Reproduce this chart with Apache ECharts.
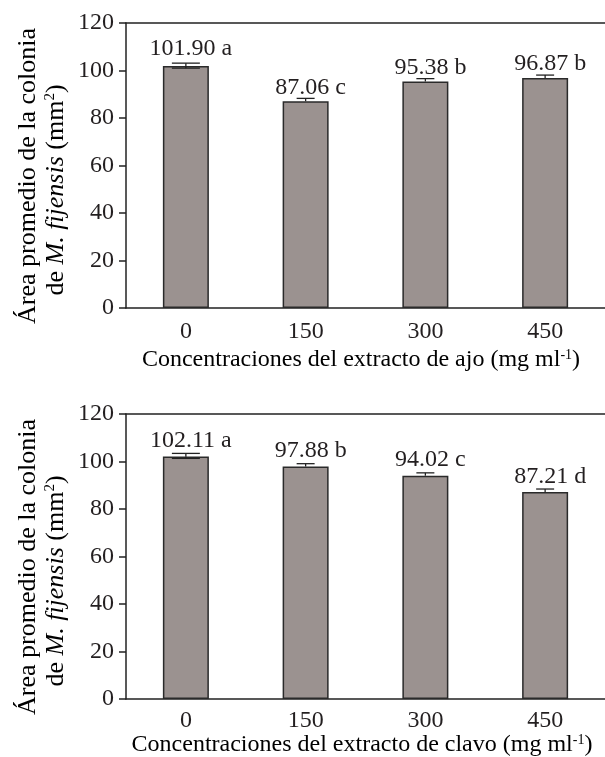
<!DOCTYPE html>
<html>
<head>
<meta charset="utf-8">
<script src="https://cdn.jsdelivr.net/npm/echarts@6/dist/echarts.min.js"></script>
<style>
html,body{margin:0;padding:0;background:#fff;}
#chart{width:605px;height:757px;}
</style>
</head>
<body>
<div id="chart"></div>
<script>
// ---- data ----
const categories = ['0', '150', '300', '450'];
const ajoValues = [101.90, 87.06, 95.38, 96.87];
const ajoLetters = ['a', 'c', 'b', 'b'];
const ajoErrUp = [1.2, 1.2, 1.2, 1.2];
const ajoErrLow = [0.9, 0, 0, 0];
const clavoValues = [102.11, 97.88, 94.02, 87.21];
const clavoLetters = ['a', 'b', 'c', 'd'];
const clavoErrUp = [1.3, 1.2, 1.2, 1.2];
const clavoErrLow = [0.8, 0, 0, 0];
const yTicks = [0, 20, 40, 60, 80, 100, 120];
const xTitleAjo = 'Concentraciones del extracto de ajo (mg ml';
const xTitleClavo = 'Concentraciones del extracto de clavo (mg ml';
const yTitle1 = 'Área promedio de la colonia';

const FONT = '"Liberation Serif", "Times New Roman", serif';
const TXT = '#231f20';
const BAR = '#9b9290';
const FS = 24;

const chart = echarts.init(document.getElementById('chart'));

function grids() {
  return [
    {left: 126, top: 23, width: 488, height: 285},
    {left: 126, top: 414, width: 488, height: 285}
  ];
}

function xAxes() {
  const arr = [];
  [0, 1].forEach(g => {
    arr.push({
      type: 'category', gridIndex: g, data: categories, position: 'bottom',
      axisLine: {lineStyle: {color: '#222', width: 1.5}},
      axisTick: {show: false},
      axisLabel: {fontFamily: FONT, fontSize: FS, color: TXT, margin: g === 0 ? 12 : 10}
    });
    arr.push({
      type: 'category', gridIndex: g, data: categories, position: 'top',
      axisLine: {lineStyle: {color: '#222', width: 1.5}},
      axisTick: {show: false}, axisLabel: {show: false}
    });
  });
  return arr;
}

function yAxes() {
  return [0, 1].map(g => ({
    type: 'value', gridIndex: g, min: yTicks[0], max: yTicks[yTicks.length - 1], interval: yTicks[1] - yTicks[0],
    axisLine: {show: true, lineStyle: {color: '#222', width: 1.5}},
    axisTick: {show: true, length: 7, lineStyle: {color: '#222', width: 1.5}},
    splitLine: {show: false},
    axisLabel: {fontFamily: FONT, fontSize: FS, color: TXT, margin: 12}
  }));
}

function barSeries(vals, letters, g, dist, firstDist) {
  return {
    type: 'bar', xAxisIndex: g * 2, yAxisIndex: g,
    data: vals.map((v, i) => i === 0 ? {value: v, label: {distance: firstDist}} : v),
    barWidth: 46,
    itemStyle: {color: BAR, borderColor: '#2a2a2a', borderWidth: 1.5},
    label: {
      show: true, position: 'top', distance: dist, offset: [5, 0],
      fontFamily: FONT, fontSize: FS, color: TXT,
      formatter: p => p.value.toFixed(2) + ' ' + letters[p.dataIndex]
    },
    z: 2
  };
}

function errSeries(vals, up, low, g) {
  return {
    type: 'custom', xAxisIndex: g * 2, yAxisIndex: g, z: 5,
    data: vals.map((v, i) => [i, v, v + up[i], v - low[i]]),
    renderItem: (params, api) => {
      const i = api.value(0);
      const top = api.coord([i, api.value(2)]);
      const mid = api.coord([i, api.value(1)]);
      const bot = api.coord([i, api.value(3)]);
      const w = i === 0 ? 14 : 9;
      const st = {stroke: '#222', lineWidth: 1.3};
      const children = [
        {type: 'line', shape: {x1: top[0], y1: top[1], x2: mid[0], y2: mid[1]}, style: st},
        {type: 'line', shape: {x1: top[0] - w, y1: top[1], x2: top[0] + w, y2: top[1]}, style: st}
      ];
      if (api.value(3) < api.value(1)) {
        children.push({type: 'line', shape: {x1: mid[0], y1: mid[1], x2: bot[0], y2: bot[1]}, style: st});
        children.push({type: 'line', shape: {x1: bot[0] - w, y1: bot[1], x2: bot[0] + w, y2: bot[1]}, style: st});
      }
      return {type: 'group', children};
    }
  };
}

const richX = {
  n: {fontFamily: FONT, fontSize: FS, color: TXT},
  s: {fontFamily: FONT, fontSize: 14, color: TXT, verticalAlign: 'top', lineHeight: 14}
};
const richY = {
  n: {fontFamily: FONT, fontSize: 26, color: TXT},
  i: {fontFamily: FONT, fontSize: 26, color: TXT, fontStyle: 'italic'},
  s: {fontFamily: FONT, fontSize: 15, color: TXT, verticalAlign: 'top', lineHeight: 15}
};

function yTitleGraphics(cy) {
  return [
    {type: 'text', x: 28, y: cy + 11, rotation: Math.PI / 2,
      style: {text: '{n|' + yTitle1 + '}', rich: richY, align: 'center', verticalAlign: 'middle'}},
    {type: 'text', x: 56, y: cy + 25, rotation: Math.PI / 2,
      style: {text: '{n|de }{i|M. fijensis}{n| (mm}{s|2}{n|)}', rich: richY, align: 'center', verticalAlign: 'middle'}}
  ];
}

const option = {
  animation: false,
  backgroundColor: '#fff',
  grid: grids(),
  xAxis: xAxes(),
  yAxis: yAxes(),
  series: [
    barSeries(ajoValues, ajoLetters, 0, 2, 5),
    errSeries(ajoValues, ajoErrUp, ajoErrLow, 0),
    barSeries(clavoValues, clavoLetters, 1, 3.5, 3.5),
    errSeries(clavoValues, clavoErrUp, clavoErrLow, 1)
  ],
  graphic: [
    ...yTitleGraphics(165),
    ...yTitleGraphics(556),
    {type: 'text', x: 361, y: 360,
      style: {text: '{n|' + xTitleAjo + '}{s|-1}{n|)}', rich: richX, align: 'center', verticalAlign: 'middle'}},
    {type: 'text', x: 362, y: 745,
      style: {text: '{n|' + xTitleClavo + '}{s|-1}{n|)}', rich: richX, align: 'center', verticalAlign: 'middle'}}
  ]
};
chart.setOption(option);
</script>
</body>
</html>
